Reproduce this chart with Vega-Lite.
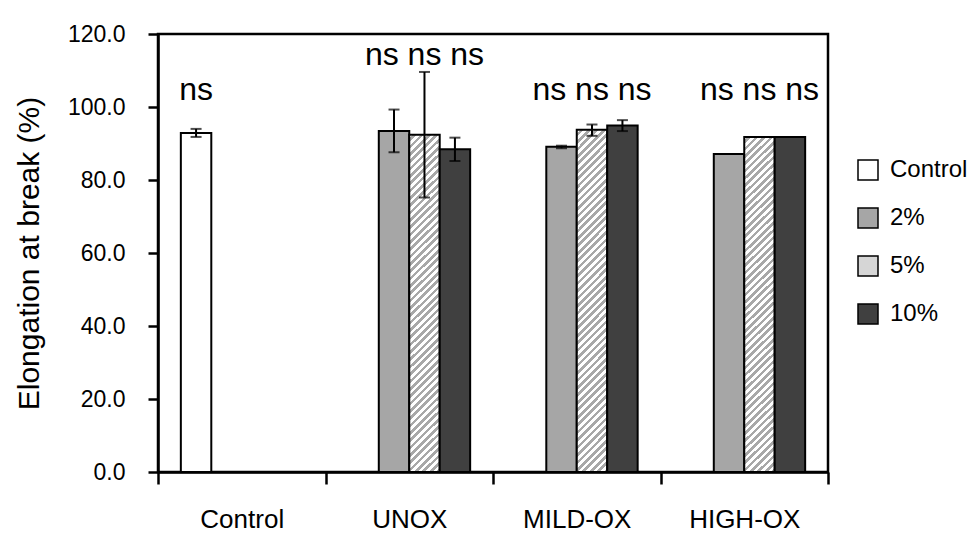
{
  "$schema": "https://vega.github.io/schema/vega-lite/v6.json",
  "width": 670,
  "height": 438,
  "autosize": {"type": "none"},
  "padding": {"left": 158, "top": 34, "right": 142, "bottom": 64},
  "background": "white",
  "config": {
    "font": "Liberation Sans",
    "view": {"stroke": "black", "strokeWidth": 2.5},
    "axis": {"domainColor": "black", "domainWidth": 2.5, "tickColor": "black", "tickWidth": 2.5, "labelColor": "black", "titleColor": "black", "grid": false, "labelFont": "Liberation Sans", "titleFont": "Liberation Sans"},
    "legend": {"symbolStrokeWidth": 1.5, "symbolStrokeColor": "black"}
  },
  "datasets": {
    "bars": [
      {"group": "Control", "series": "Control", "value": 92.9},
      {"group": "UNOX", "series": "2%", "value": 93.4},
      {"group": "UNOX", "series": "5%", "value": 92.4},
      {"group": "UNOX", "series": "10%", "value": 88.4},
      {"group": "MILD-OX", "series": "2%", "value": 89.1},
      {"group": "MILD-OX", "series": "5%", "value": 93.8},
      {"group": "MILD-OX", "series": "10%", "value": 94.9},
      {"group": "HIGH-OX", "series": "2%", "value": 87.1},
      {"group": "HIGH-OX", "series": "5%", "value": 91.8},
      {"group": "HIGH-OX", "series": "10%", "value": 91.8}
    ],
    "errors": [
      {"group": "Control", "series": "Control", "lo": 91.8, "hi": 94.0},
      {"group": "UNOX", "series": "2%", "lo": 87.6, "hi": 99.3},
      {"group": "UNOX", "series": "5%", "lo": 75.2, "hi": 109.6},
      {"group": "UNOX", "series": "10%", "lo": 85.2, "hi": 91.6},
      {"group": "MILD-OX", "series": "2%", "lo": 88.7, "hi": 89.4},
      {"group": "MILD-OX", "series": "5%", "lo": 92.1, "hi": 95.2},
      {"group": "MILD-OX", "series": "10%", "lo": 93.4, "hi": 96.4}
    ],
    "labels": [
      {"group": "Control", "series": "Control", "label": "ns", "y": 102},
      {"group": "UNOX", "series": "5%", "label": "ns ns ns", "y": 111.4},
      {"group": "MILD-OX", "series": "5%", "label": "ns ns ns", "y": 102},
      {"group": "HIGH-OX", "series": "5%", "label": "ns ns ns", "y": 102}
    ]
  },
  "encoding": {
    "x": {
      "field": "group",
      "type": "nominal",
      "sort": ["Control", "UNOX", "MILD-OX", "HIGH-OX"],
      "scale": {"domain": ["Control", "UNOX", "MILD-OX", "HIGH-OX"], "paddingInner": 0, "paddingOuter": 0},
      "axis": {"title": null, "labelAngle": 0, "labelFontSize": 26, "tickSize": 12, "labelPadding": 22, "tickBand": "extent"}
    },
    "xOffset": {
      "field": "series",
      "type": "nominal",
      "scale": {"domain": ["Control", "2%", "5%", "10%"], "paddingInner": 0, "paddingOuter": 0.75}
    }
  },
  "layer": [
    {
      "data": {"name": "bars"},
      "mark": {"type": "bar", "strokeWidth": 2, "strokeJoin": "miter"},
      "encoding": {
        "y": {
          "field": "value",
          "type": "quantitative",
          "scale": {"domain": [0, 120], "nice": false, "zero": true},
          "axis": {"values": [0, 20, 40, 60, 80, 100, 120], "format": ".1f", "labelFontSize": 23, "tickSize": 10, "labelPadding": 23, "title": "Elongation at break (%)", "titleFontSize": 30, "titleFontWeight": "normal", "titlePadding": 23}
        },
        "stroke": {
          "field": "series",
          "type": "nominal",
          "scale": {"domain": ["Control", "2%", "5%", "10%"], "range": ["#000000", "#000000", "#000000", "#000000"]},
          "legend": {
            "title": null,
            "orient": "none",
            "legendX": 698,
            "legendY": 124,
            "symbolType": "square",
            "symbolSize": 400,
            "symbolStrokeWidth": 1.5,
            "labelFontSize": 24,
            "labelColor": "black",
            "labelOffset": 10,
            "rowPadding": 22
          }
        },
        "fill": {
          "condition": {
            "test": "datum.series === '5%'",
            "value": {
              "gradient": "linear", "x1": 0, "y1": 0, "x2": 0.0965, "y2": 1.08,
              "stops": [
                {"offset": 0.00, "color": "#ffffff"}, {"offset": 0.01, "color": "#ffffff"}, {"offset": 0.01, "color": "#a8a8a8"}, {"offset": 0.02, "color": "#a8a8a8"},
                {"offset": 0.02, "color": "#ffffff"}, {"offset": 0.03, "color": "#ffffff"}, {"offset": 0.03, "color": "#a8a8a8"}, {"offset": 0.04, "color": "#a8a8a8"},
                {"offset": 0.04, "color": "#ffffff"}, {"offset": 0.05, "color": "#ffffff"}, {"offset": 0.05, "color": "#a8a8a8"}, {"offset": 0.06, "color": "#a8a8a8"},
                {"offset": 0.06, "color": "#ffffff"}, {"offset": 0.07, "color": "#ffffff"}, {"offset": 0.07, "color": "#a8a8a8"}, {"offset": 0.08, "color": "#a8a8a8"},
                {"offset": 0.08, "color": "#ffffff"}, {"offset": 0.09, "color": "#ffffff"}, {"offset": 0.09, "color": "#a8a8a8"}, {"offset": 0.10, "color": "#a8a8a8"},
                {"offset": 0.10, "color": "#ffffff"}, {"offset": 0.11, "color": "#ffffff"}, {"offset": 0.11, "color": "#a8a8a8"}, {"offset": 0.12, "color": "#a8a8a8"},
                {"offset": 0.12, "color": "#ffffff"}, {"offset": 0.13, "color": "#ffffff"}, {"offset": 0.13, "color": "#a8a8a8"}, {"offset": 0.14, "color": "#a8a8a8"},
                {"offset": 0.14, "color": "#ffffff"}, {"offset": 0.15, "color": "#ffffff"}, {"offset": 0.15, "color": "#a8a8a8"}, {"offset": 0.16, "color": "#a8a8a8"},
                {"offset": 0.16, "color": "#ffffff"}, {"offset": 0.17, "color": "#ffffff"}, {"offset": 0.17, "color": "#a8a8a8"}, {"offset": 0.18, "color": "#a8a8a8"},
                {"offset": 0.18, "color": "#ffffff"}, {"offset": 0.19, "color": "#ffffff"}, {"offset": 0.19, "color": "#a8a8a8"}, {"offset": 0.20, "color": "#a8a8a8"},
                {"offset": 0.20, "color": "#ffffff"}, {"offset": 0.21, "color": "#ffffff"}, {"offset": 0.21, "color": "#a8a8a8"}, {"offset": 0.22, "color": "#a8a8a8"},
                {"offset": 0.22, "color": "#ffffff"}, {"offset": 0.23, "color": "#ffffff"}, {"offset": 0.23, "color": "#a8a8a8"}, {"offset": 0.24, "color": "#a8a8a8"},
                {"offset": 0.24, "color": "#ffffff"}, {"offset": 0.25, "color": "#ffffff"}, {"offset": 0.25, "color": "#a8a8a8"}, {"offset": 0.26, "color": "#a8a8a8"},
                {"offset": 0.26, "color": "#ffffff"}, {"offset": 0.27, "color": "#ffffff"}, {"offset": 0.27, "color": "#a8a8a8"}, {"offset": 0.28, "color": "#a8a8a8"},
                {"offset": 0.28, "color": "#ffffff"}, {"offset": 0.29, "color": "#ffffff"}, {"offset": 0.29, "color": "#a8a8a8"}, {"offset": 0.30, "color": "#a8a8a8"},
                {"offset": 0.30, "color": "#ffffff"}, {"offset": 0.31, "color": "#ffffff"}, {"offset": 0.31, "color": "#a8a8a8"}, {"offset": 0.32, "color": "#a8a8a8"},
                {"offset": 0.32, "color": "#ffffff"}, {"offset": 0.33, "color": "#ffffff"}, {"offset": 0.33, "color": "#a8a8a8"}, {"offset": 0.34, "color": "#a8a8a8"},
                {"offset": 0.34, "color": "#ffffff"}, {"offset": 0.35, "color": "#ffffff"}, {"offset": 0.35, "color": "#a8a8a8"}, {"offset": 0.36, "color": "#a8a8a8"},
                {"offset": 0.36, "color": "#ffffff"}, {"offset": 0.37, "color": "#ffffff"}, {"offset": 0.37, "color": "#a8a8a8"}, {"offset": 0.38, "color": "#a8a8a8"},
                {"offset": 0.38, "color": "#ffffff"}, {"offset": 0.39, "color": "#ffffff"}, {"offset": 0.39, "color": "#a8a8a8"}, {"offset": 0.40, "color": "#a8a8a8"},
                {"offset": 0.40, "color": "#ffffff"}, {"offset": 0.41, "color": "#ffffff"}, {"offset": 0.41, "color": "#a8a8a8"}, {"offset": 0.42, "color": "#a8a8a8"},
                {"offset": 0.42, "color": "#ffffff"}, {"offset": 0.43, "color": "#ffffff"}, {"offset": 0.43, "color": "#a8a8a8"}, {"offset": 0.44, "color": "#a8a8a8"},
                {"offset": 0.44, "color": "#ffffff"}, {"offset": 0.45, "color": "#ffffff"}, {"offset": 0.45, "color": "#a8a8a8"}, {"offset": 0.46, "color": "#a8a8a8"},
                {"offset": 0.46, "color": "#ffffff"}, {"offset": 0.47, "color": "#ffffff"}, {"offset": 0.47, "color": "#a8a8a8"}, {"offset": 0.48, "color": "#a8a8a8"},
                {"offset": 0.48, "color": "#ffffff"}, {"offset": 0.49, "color": "#ffffff"}, {"offset": 0.49, "color": "#a8a8a8"}, {"offset": 0.50, "color": "#a8a8a8"},
                {"offset": 0.50, "color": "#ffffff"}, {"offset": 0.51, "color": "#ffffff"}, {"offset": 0.51, "color": "#a8a8a8"}, {"offset": 0.52, "color": "#a8a8a8"},
                {"offset": 0.52, "color": "#ffffff"}, {"offset": 0.53, "color": "#ffffff"}, {"offset": 0.53, "color": "#a8a8a8"}, {"offset": 0.54, "color": "#a8a8a8"},
                {"offset": 0.54, "color": "#ffffff"}, {"offset": 0.55, "color": "#ffffff"}, {"offset": 0.55, "color": "#a8a8a8"}, {"offset": 0.56, "color": "#a8a8a8"},
                {"offset": 0.56, "color": "#ffffff"}, {"offset": 0.57, "color": "#ffffff"}, {"offset": 0.57, "color": "#a8a8a8"}, {"offset": 0.58, "color": "#a8a8a8"},
                {"offset": 0.58, "color": "#ffffff"}, {"offset": 0.59, "color": "#ffffff"}, {"offset": 0.59, "color": "#a8a8a8"}, {"offset": 0.60, "color": "#a8a8a8"},
                {"offset": 0.60, "color": "#ffffff"}, {"offset": 0.61, "color": "#ffffff"}, {"offset": 0.61, "color": "#a8a8a8"}, {"offset": 0.62, "color": "#a8a8a8"},
                {"offset": 0.62, "color": "#ffffff"}, {"offset": 0.63, "color": "#ffffff"}, {"offset": 0.63, "color": "#a8a8a8"}, {"offset": 0.64, "color": "#a8a8a8"},
                {"offset": 0.64, "color": "#ffffff"}, {"offset": 0.65, "color": "#ffffff"}, {"offset": 0.65, "color": "#a8a8a8"}, {"offset": 0.66, "color": "#a8a8a8"},
                {"offset": 0.66, "color": "#ffffff"}, {"offset": 0.67, "color": "#ffffff"}, {"offset": 0.67, "color": "#a8a8a8"}, {"offset": 0.68, "color": "#a8a8a8"},
                {"offset": 0.68, "color": "#ffffff"}, {"offset": 0.69, "color": "#ffffff"}, {"offset": 0.69, "color": "#a8a8a8"}, {"offset": 0.70, "color": "#a8a8a8"},
                {"offset": 0.70, "color": "#ffffff"}, {"offset": 0.71, "color": "#ffffff"}, {"offset": 0.71, "color": "#a8a8a8"}, {"offset": 0.72, "color": "#a8a8a8"},
                {"offset": 0.72, "color": "#ffffff"}, {"offset": 0.73, "color": "#ffffff"}, {"offset": 0.73, "color": "#a8a8a8"}, {"offset": 0.74, "color": "#a8a8a8"},
                {"offset": 0.74, "color": "#ffffff"}, {"offset": 0.75, "color": "#ffffff"}, {"offset": 0.75, "color": "#a8a8a8"}, {"offset": 0.76, "color": "#a8a8a8"},
                {"offset": 0.76, "color": "#ffffff"}, {"offset": 0.77, "color": "#ffffff"}, {"offset": 0.77, "color": "#a8a8a8"}, {"offset": 0.78, "color": "#a8a8a8"},
                {"offset": 0.78, "color": "#ffffff"}, {"offset": 0.79, "color": "#ffffff"}, {"offset": 0.79, "color": "#a8a8a8"}, {"offset": 0.80, "color": "#a8a8a8"},
                {"offset": 0.80, "color": "#ffffff"}, {"offset": 0.81, "color": "#ffffff"}, {"offset": 0.81, "color": "#a8a8a8"}, {"offset": 0.82, "color": "#a8a8a8"},
                {"offset": 0.82, "color": "#ffffff"}, {"offset": 0.83, "color": "#ffffff"}, {"offset": 0.83, "color": "#a8a8a8"}, {"offset": 0.84, "color": "#a8a8a8"},
                {"offset": 0.84, "color": "#ffffff"}, {"offset": 0.85, "color": "#ffffff"}, {"offset": 0.85, "color": "#a8a8a8"}, {"offset": 0.86, "color": "#a8a8a8"},
                {"offset": 0.86, "color": "#ffffff"}, {"offset": 0.87, "color": "#ffffff"}, {"offset": 0.87, "color": "#a8a8a8"}, {"offset": 0.88, "color": "#a8a8a8"},
                {"offset": 0.88, "color": "#ffffff"}, {"offset": 0.89, "color": "#ffffff"}, {"offset": 0.89, "color": "#a8a8a8"}, {"offset": 0.90, "color": "#a8a8a8"},
                {"offset": 0.90, "color": "#ffffff"}, {"offset": 0.91, "color": "#ffffff"}, {"offset": 0.91, "color": "#a8a8a8"}, {"offset": 0.92, "color": "#a8a8a8"},
                {"offset": 0.92, "color": "#ffffff"}, {"offset": 0.93, "color": "#ffffff"}, {"offset": 0.93, "color": "#a8a8a8"}, {"offset": 0.94, "color": "#a8a8a8"},
                {"offset": 0.94, "color": "#ffffff"}, {"offset": 0.95, "color": "#ffffff"}, {"offset": 0.95, "color": "#a8a8a8"}, {"offset": 0.96, "color": "#a8a8a8"},
                {"offset": 0.96, "color": "#ffffff"}, {"offset": 0.97, "color": "#ffffff"}, {"offset": 0.97, "color": "#a8a8a8"}, {"offset": 0.98, "color": "#a8a8a8"},
                {"offset": 0.98, "color": "#ffffff"}, {"offset": 0.99, "color": "#ffffff"}, {"offset": 0.99, "color": "#a8a8a8"}, {"offset": 1.00, "color": "#a8a8a8"}
              ]
            }
          },
          "field": "series",
          "type": "nominal",
          "scale": {"domain": ["Control", "2%", "5%", "10%"], "range": ["#ffffff", "#a6a6a6", "#d6d6d6", "#404040"]},
          "legend": {
            "title": null,
            "orient": "none",
            "legendX": 698,
            "legendY": 124,
            "symbolType": "square",
            "symbolSize": 400,
            "symbolStrokeWidth": 1.5,
            "labelFontSize": 24,
            "labelColor": "black",
            "labelOffset": 10,
            "rowPadding": 22
          }
        }
      }
    },
    {
      "data": {"name": "errors"},
      "mark": {"type": "rule", "color": "black", "strokeWidth": 2},
      "encoding": {
        "y": {"field": "lo", "type": "quantitative"},
        "y2": {"field": "hi"}
      }
    },
    {
      "data": {"name": "errors"},
      "mark": {"type": "tick", "color": "black", "thickness": 2, "size": 11, "orient": "horizontal"},
      "encoding": {
        "y": {"field": "lo", "type": "quantitative"}
      }
    },
    {
      "data": {"name": "errors"},
      "mark": {"type": "tick", "color": "black", "thickness": 2, "size": 11, "orient": "horizontal"},
      "encoding": {
        "y": {"field": "hi", "type": "quantitative"}
      }
    },
    {
      "data": {"name": "labels"},
      "mark": {"type": "text", "fontSize": 32, "color": "black", "baseline": "alphabetic", "align": "center", "font": "Liberation Sans"},
      "encoding": {
        "y": {"field": "y", "type": "quantitative"},
        "text": {"field": "label"}
      }
    }
  ]
}
